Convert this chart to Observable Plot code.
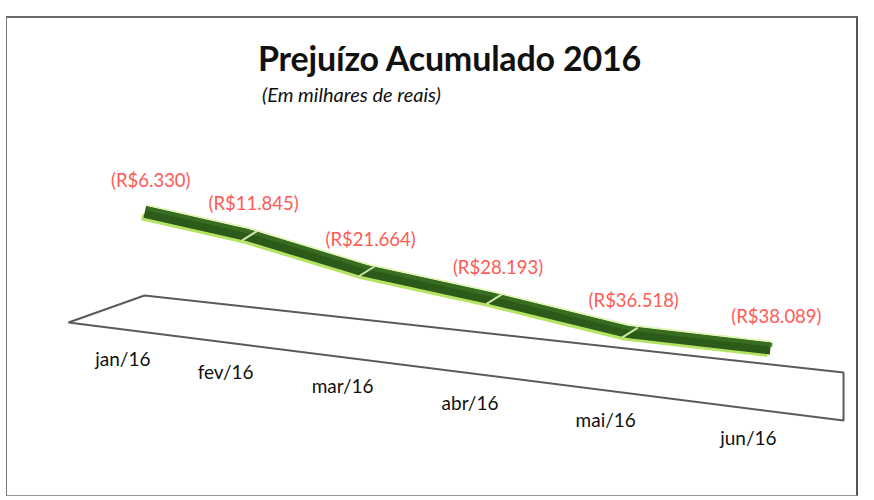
<!DOCTYPE html>
<html>
<head>
<meta charset="utf-8">
<script src="https://cdn.jsdelivr.net/npm/d3@7"></script>
<script src="https://cdn.jsdelivr.net/npm/@observablehq/plot@0.6"></script>
<style>
  html, body { margin: 0; padding: 0; background: #ffffff; }
  body { width: 874px; height: 500px; position: relative; overflow: hidden; font-family: Lato, "Open Sans", sans-serif; }
  #frame { position: absolute; left: 6px; top: 16px; width: 852px; height: 480px; box-sizing: border-box;
           border-top: 2px solid #6a6a6a; border-right: 2px solid #555; border-left: 1px solid #777; border-bottom: 1px solid #999; }
  #wrap { position: absolute; left: 0; top: 0; width: 874px; }
  #head { height: 120px; box-sizing: border-box; padding-top: 37px; }
  #title { padding-left: 258px; font-size: 34px; font-weight: 700; color: #111; line-height: 42px; letter-spacing: -0.2px; }
  #subtitle { padding-left: 262px; font-size: 20px; font-style: italic; color: #111; line-height: 26px; margin-top: 2px; }
</style>
</head>
<body>
<div id="frame"></div>
<div id="wrap">
  <div id="head">
    <div id="title">Prejuízo Acumulado 2016</div>
    <div id="subtitle">(Em milhares de reais)</div>
  </div>
  <div id="chart"></div>
</div>
<script>
// ---- data ----
const months = ["jan/16", "fev/16", "mar/16", "abr/16", "mai/16", "jun/16"];
const prejuizo = [-6330, -11845, -21664, -28193, -36518, -38089];

// ---- pseudo-3D projection used to feed Plot's scales ----
const EXP = 1.25;            // perspective spread of the category axis (pow scale exponent)
const TILT = 2480;           // downward tilt of the series plane, in value units per projected step
const proj = (value, p, tilt) => value - tilt * Math.pow(p, EXP);

const data = months.map((m, i) => ({month: m, i, pos: i + 1, value: prejuizo[i]}));
data.forEach(d => { d.yp = proj(d.value, d.pos, TILT); });
const joints = data.slice(1, -1);

// floor of the 3D chart (back and front edges)
const floorBack  = {value: -35700, tilt: 3160, from: 1.05,  to: 6.53};
const floorFront = {value: -49300, tilt: 3630, from: 0.081, to: 6.53};
const floorPts = [
  {pos: floorBack.from,  y: proj(floorBack.value,  floorBack.from,  floorBack.tilt)},
  {pos: floorBack.to,    y: proj(floorBack.value,  floorBack.to,    floorBack.tilt)},
  {pos: floorFront.to,   y: proj(floorFront.value, floorFront.to,   floorFront.tilt)},
  {pos: floorFront.from, y: proj(floorFront.value, floorFront.from, floorFront.tilt)},
  {pos: floorBack.from,  y: proj(floorBack.value,  floorBack.from,  floorBack.tilt)}
];
data.forEach(d => { d.yl = proj(floorFront.value, d.pos, floorFront.tilt); });

const br = d3.formatLocale({decimal: ",", thousands: ".", grouping: [3], currency: ["R$", ""]});
const fmt = v => "(R$" + br.format(",d")(Math.abs(v)) + ")";

const segShape = {draw(ctx, l) { ctx.moveTo(0, 0); ctx.lineTo(0, -l); }};

const chart = Plot.plot({
  width: 874,
  height: 380,
  margin: 0,
  style: {fontFamily: "Lato, 'Open Sans', sans-serif", background: "transparent", overflow: "visible"},
  x: {type: "pow", exponent: EXP, domain: [1, 6], range: [139.3, 764.9], axis: null},
  y: {type: "linear", domain: [0, -60000], range: [73.55, 229.37], axis: null},
  marks: [
    // floor
    Plot.line(floorPts, {x: "pos", y: "y", stroke: "#5a5a5a", strokeWidth: 2, strokeLinejoin: "miter"}),
    // ribbon: halo, light front face, dark top face
    Plot.line(data, {x: "pos", y: "yp", dx: 5, dy: -5, stroke: "#e2f5b8", strokeWidth: 16, strokeLinejoin: "miter", strokeLinecap: "butt"}),
    Plot.line(data, {x: "pos", y: "yp", dx: 2, dy: 0, stroke: "#b6e366", strokeWidth: 7, strokeLinejoin: "miter", strokeLinecap: "butt"}),
    Plot.line(data, {x: "pos", y: "yp", dx: 5, dy: -5, stroke: "#2c5a18", strokeWidth: 12, strokeLinejoin: "miter", strokeLinecap: "butt"}),
    Plot.line(data, {x: "pos", y: "yp", dx: 7, dy: -8.5, stroke: "#3b7024", strokeWidth: 4, strokeLinejoin: "miter", strokeLinecap: "butt", strokeOpacity: 0.8}),
    // segment joints
    Plot.vector(joints, {x: "pos", y: "yp", length: 17, rotate: 58, anchor: "start", shape: segShape,
                         stroke: "#cfe8a6", strokeWidth: 2}),
    // value labels
    Plot.text(data, {x: "pos", y: "yp", text: d => fmt(d.value), dx: 11, dy: -36,
                     fill: "#ff5a55", fontSize: 18.5}),
    // category labels
    Plot.text(data, {x: "pos", y: "yl", text: "month", dx: -17, dy: 28,
                     fill: "#111", fontSize: 19})
  ]
});
document.getElementById("chart").appendChild(chart);
</script>
</body>
</html>
